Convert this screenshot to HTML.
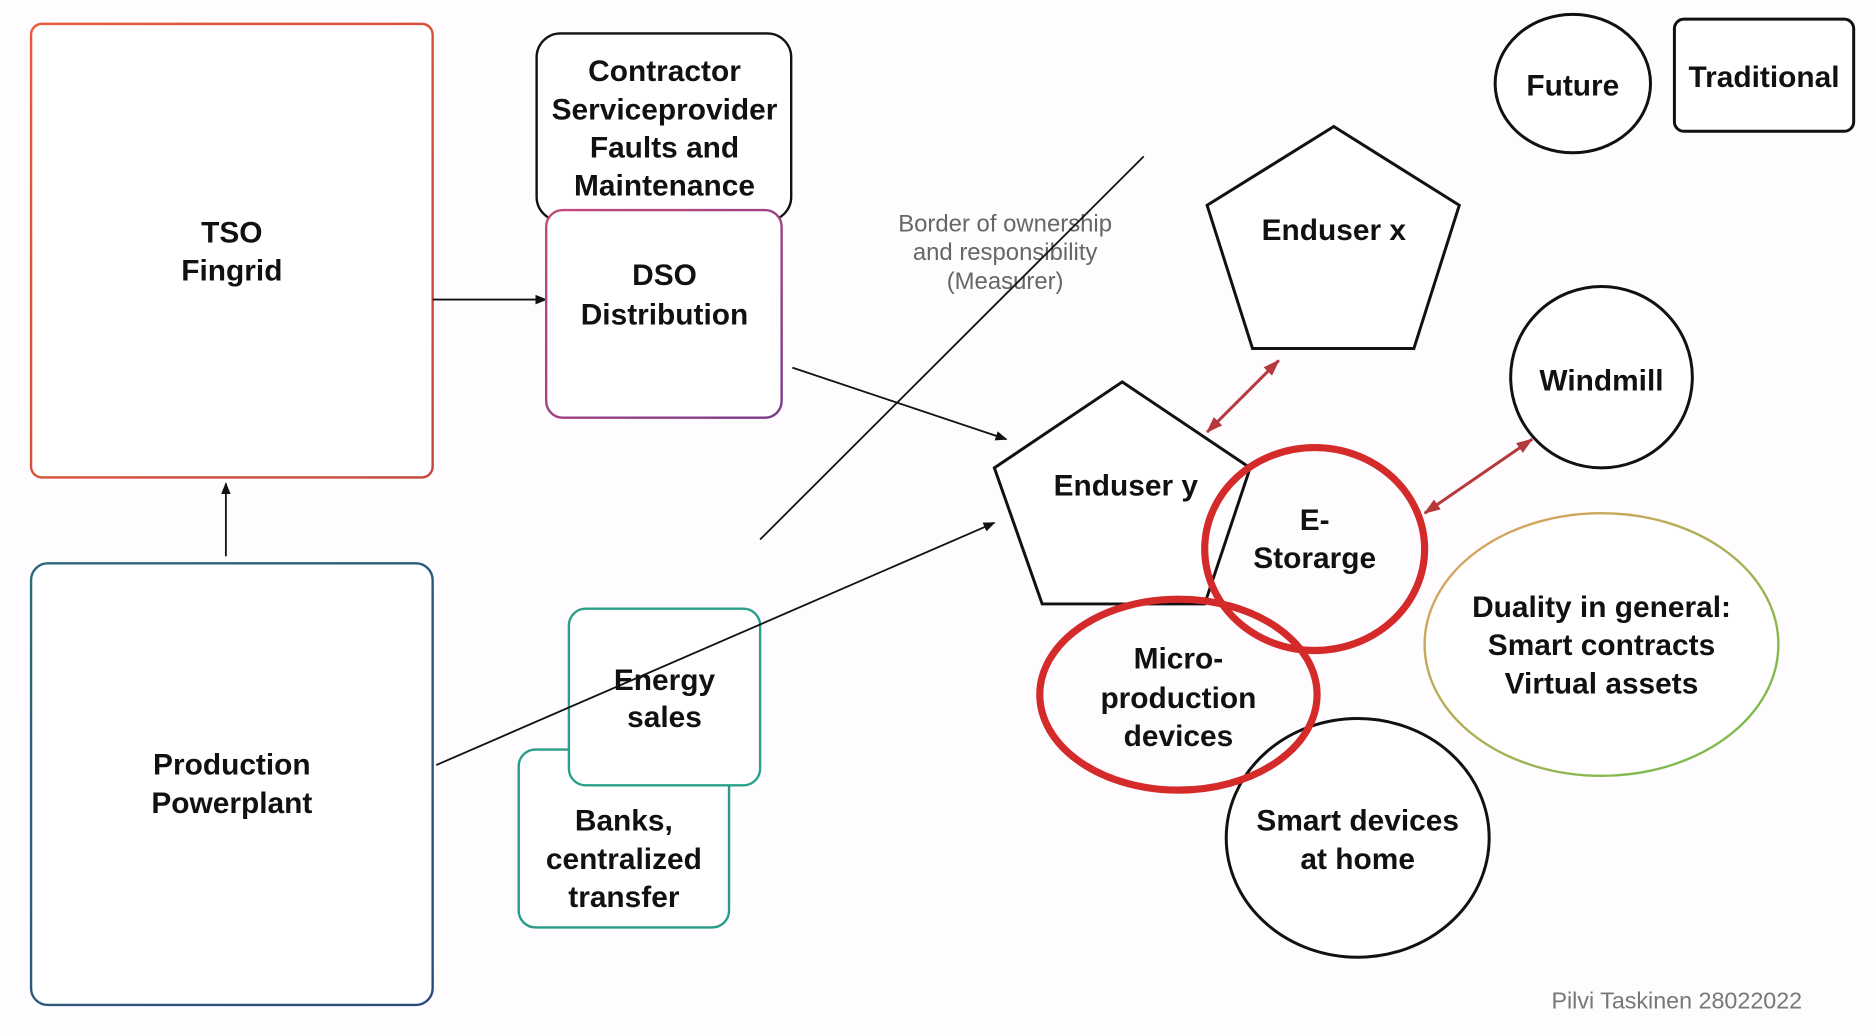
<!DOCTYPE html>
<html><head><meta charset="utf-8"><style>
html,body{margin:0;padding:0;background:#fefcfe;}
svg{display:block}
text{font-family:"Liberation Sans",Arial,sans-serif;}
.t{font-size:25px;font-weight:bold;fill:#111;text-anchor:middle;}
</style></head><body>
<svg width="1874" height="1036" viewBox="0 0 1568 868" preserveAspectRatio="none" xmlns="http://www.w3.org/2000/svg">
<defs>
<marker id="a" markerWidth="10" markerHeight="8" refX="9" refY="4" orient="auto" markerUnits="userSpaceOnUse"><path d="M0,0 L10,4 L0,8z" fill="#111"/></marker>
<marker id="r" markerWidth="14" markerHeight="10" refX="13" refY="5" orient="auto-start-reverse" markerUnits="userSpaceOnUse"><path d="M0,0 L14,5 L0,10z" fill="#b5383a"/></marker>
<linearGradient id="g1" x1="0" y1="0" x2="1" y2="1"><stop offset="0" stop-color="#e85a3a"/><stop offset="1" stop-color="#c4453a"/></linearGradient>
<linearGradient id="g2" x1="0" y1="0" x2="1" y2="1"><stop offset="0" stop-color="#2a6a7a"/><stop offset="1" stop-color="#2a4a7a"/></linearGradient>
<linearGradient id="g3" x1="0" y1="0" x2="1" y2="1"><stop offset="0" stop-color="#c34a7a"/><stop offset="1" stop-color="#7a3a8a"/></linearGradient>
<linearGradient id="g4" x1="0" y1="0" x2="1" y2="1"><stop offset="0" stop-color="#e8a060"/><stop offset="1" stop-color="#6ac04a"/></linearGradient>
</defs>
<rect x="26" y="20" width="336" height="380" rx="9" fill="#fff" stroke="url(#g1)" stroke-width="2"/>
<text class="t" x="194" y="203">TSO</text><text class="t" x="194" y="235">Fingrid</text>
<rect x="26" y="472" width="336" height="370" rx="14" fill="#fff" stroke="url(#g2)" stroke-width="2"/>
<text class="t" x="194" y="649">Production</text><text class="t" x="194" y="681">Powerplant</text>
<line x1="189" y1="466" x2="189" y2="405" stroke="#111" stroke-width="1.5" marker-end="url(#a)"/>
<line x1="362" y1="251" x2="457" y2="251" stroke="#111" stroke-width="1.5" marker-end="url(#a)"/>
<rect x="449" y="28" width="213" height="157" rx="20" fill="#fff" stroke="#111" stroke-width="2"/>
<text class="t" x="556" y="68">Contractor</text><text class="t" x="556" y="100">Serviceprovider</text><text class="t" x="556" y="132">Faults and</text><text class="t" x="556" y="164">Maintenance</text>
<rect x="457" y="176" width="197" height="174" rx="14" fill="#fff" stroke="url(#g3)" stroke-width="2"/>
<text class="t" x="556" y="239">DSO</text><text class="t" x="556" y="272">Distribution</text>
<text x="841" y="194" font-size="20" fill="#666" text-anchor="middle">Border of ownership</text>
<text x="841" y="218" font-size="20" fill="#666" text-anchor="middle">and responsibility</text>
<text x="841" y="242" font-size="20" fill="#666" text-anchor="middle">(Measurer)</text>
<line x1="636" y1="452" x2="957" y2="131" stroke="#111" stroke-width="1.5"/>
<line x1="663" y1="308" x2="842" y2="368" stroke="#111" stroke-width="1.5" marker-end="url(#a)"/>
<rect x="434" y="628" width="176" height="149" rx="14" fill="#fff" stroke="#2a9a8a" stroke-width="2"/>
<text class="t" x="522" y="696">Banks,</text><text class="t" x="522" y="728">centralized</text><text class="t" x="522" y="760">transfer</text>
<rect x="476" y="510" width="160" height="148" rx="14" fill="#fff" stroke="#2aa08a" stroke-width="2"/>
<text class="t" x="556" y="578">Energy</text><text class="t" x="556" y="609">sales</text>
<line x1="365" y1="641" x2="832" y2="438" stroke="#111" stroke-width="1.5" marker-end="url(#a)"/>
<polygon points="1116,106 1221,172 1183,292 1048,292 1010,172" fill="#fff" stroke="#111" stroke-width="2.5"/>
<text class="t" x="1116" y="201">Enduser x</text>
<polygon points="939,320 1046,392 1008,506 872,506 832,392" fill="#fff" stroke="#111" stroke-width="2.5"/>
<text class="t" x="942" y="415">Enduser y</text>
<line x1="1010" y1="362" x2="1070" y2="302" stroke="#b5383a" stroke-width="2.5" marker-start="url(#r)" marker-end="url(#r)"/>
<circle cx="1340" cy="316" r="76" fill="#fff" stroke="#111" stroke-width="2.5"/>
<text class="t" x="1340" y="327">Windmill</text>
<line x1="1192" y1="430" x2="1282" y2="368" stroke="#b5383a" stroke-width="2.5" marker-start="url(#r)" marker-end="url(#r)"/>
<ellipse cx="1136" cy="702" rx="110" ry="100" fill="#fff" stroke="#111" stroke-width="2.5"/>
<text class="t" x="1136" y="696">Smart devices</text><text class="t" x="1136" y="728">at home</text>
<ellipse cx="1100" cy="460" rx="92" ry="85" fill="none" stroke="#d42a2a" stroke-width="6"/>
<text class="t" x="1100" y="444">E-</text><text class="t" x="1100" y="476">Storarge</text>
<ellipse cx="986" cy="582" rx="116" ry="80" fill="none" stroke="#d42a2a" stroke-width="6"/>
<text class="t" x="986" y="560">Micro-</text><text class="t" x="986" y="593">production</text><text class="t" x="986" y="625">devices</text>
<ellipse cx="1340" cy="540" rx="148" ry="110" fill="#fff" stroke="url(#g4)" stroke-width="2"/>
<text class="t" x="1340" y="517">Duality in general:</text><text class="t" x="1340" y="549">Smart contracts</text><text class="t" x="1340" y="581">Virtual assets</text>
<ellipse cx="1316" cy="70" rx="65" ry="58" fill="#fff" stroke="#111" stroke-width="2.5"/>
<text class="t" x="1316" y="80">Future</text>
<rect x="1401" y="16" width="150" height="94" rx="8" fill="#fff" stroke="#111" stroke-width="2.5"/>
<text class="t" x="1476" y="73">Traditional</text>
<text x="1403" y="845" font-size="19.5" fill="#777" text-anchor="middle">Pilvi Taskinen 28022022</text>
</svg>
</body></html>
